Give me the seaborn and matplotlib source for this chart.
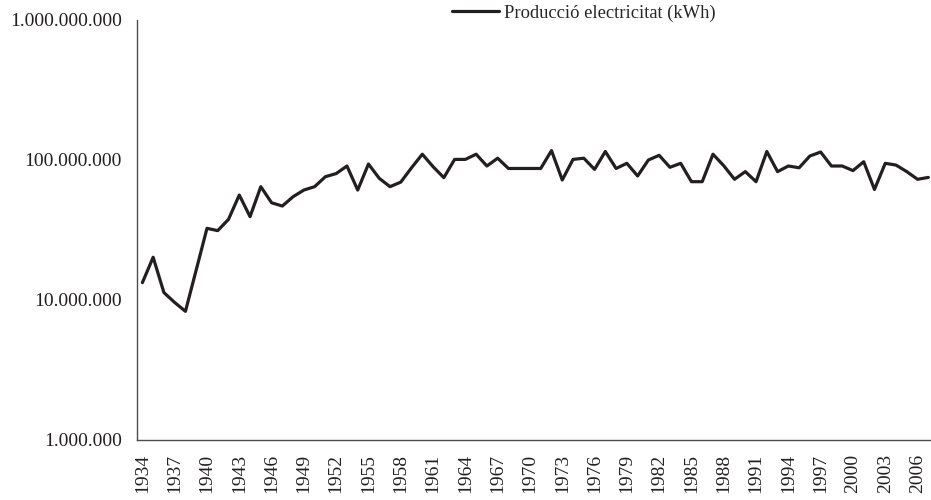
import matplotlib
matplotlib.use("Agg")
import matplotlib.pyplot as plt
import matplotlib.ticker as mticker
import seaborn as sns
import pandas as pd

# annual electricity production, kWh
years = list(range(1934, 2008))
production = [
    13.3e6, 20.2e6, 11.3e6, 9.6e6, 8.3e6, 16.4e6, 32.5e6, 31.3e6, 37.7e6, 56.2e6,
    39.4e6, 64.5e6, 49.5e6, 46.9e6, 54.7e6, 61.0e6, 64.5e6, 76.0e6, 80.0e6, 90.6e6,
    61.0e6, 93.6e6, 74.0e6, 64.5e6, 69.5e6, 88.0e6, 110.0e6, 89.6e6, 74.8e6, 101.0e6,
    101.0e6, 110.0e6, 90.6e6, 103.0e6, 87.0e6, 87.0e6, 87.0e6, 87.0e6, 116.7e6, 72.0e6,
    101.0e6, 103.0e6, 85.7e6, 115.0e6, 87.0e6, 94.7e6, 76.9e6, 100.0e6, 108.0e6, 88.7e6,
    94.7e6, 70.0e6, 70.0e6, 110.0e6, 91.0e6, 72.8e6, 82.6e6, 70.0e6, 115.0e6, 82.6e6,
    90.6e6, 88.0e6, 106.8e6, 114.0e6, 90.6e6, 90.6e6, 84.0e6, 97.2e6, 61.6e6, 94.7e6,
    92.0e6, 82.6e6, 72.8e6, 75.1e6,
]
tick_years = list(range(1934, 2007, 3))
series_label = "Producció electricitat (kWh)"

df = pd.DataFrame({"year": years, "kwh": production})

sns.set_style("white")
plt.rcParams["font.family"] = ["Liberation Serif", "DejaVu Serif"]

fig = plt.figure(figsize=(9.31, 5.0), dpi=100)
ax = fig.add_axes([137 / 931, 0.12, 794 / 931, 0.84])

sns.lineplot(data=df, x="year", y="kwh", ax=ax, color="#231f20",
             linewidth=2.3, label=series_label)

ax.set_yscale("log")
ax.set_ylim(1e6, 1e9)
ax.set_xlim(1933.5, 2007.25)
ax.yaxis.set_major_locator(mticker.FixedLocator([1e6, 1e7, 1e8, 1e9]))
ax.yaxis.set_minor_locator(mticker.NullLocator())
ax.yaxis.set_major_formatter(
    mticker.FuncFormatter(lambda v, _: f"{int(round(v)):,}".replace(",", ".")))
ax.set_xticks(tick_years)
ax.set_xticklabels([str(y) for y in tick_years], rotation=90)

ax.tick_params(axis="both", length=0, labelsize=14, colors="#231f20")
ax.tick_params(axis="x", pad=10)
ax.tick_params(axis="y", pad=11)
ax.set_xlabel("")
ax.set_ylabel("")

sns.despine(ax=ax, top=True, right=True)
for side in ("left", "bottom"):
    ax.spines[side].set_color("#4d4d4d")
    ax.spines[side].set_linewidth(1.0)

ax.legend(loc="upper center", bbox_to_anchor=(584 / 931, 0.995),
          bbox_transform=fig.transFigure, frameon=False, fontsize=13.3,
          handlelength=2.5, handletextpad=0.3, borderaxespad=0.0,
          borderpad=0.1)

fig.savefig("out.png", dpi=100)
